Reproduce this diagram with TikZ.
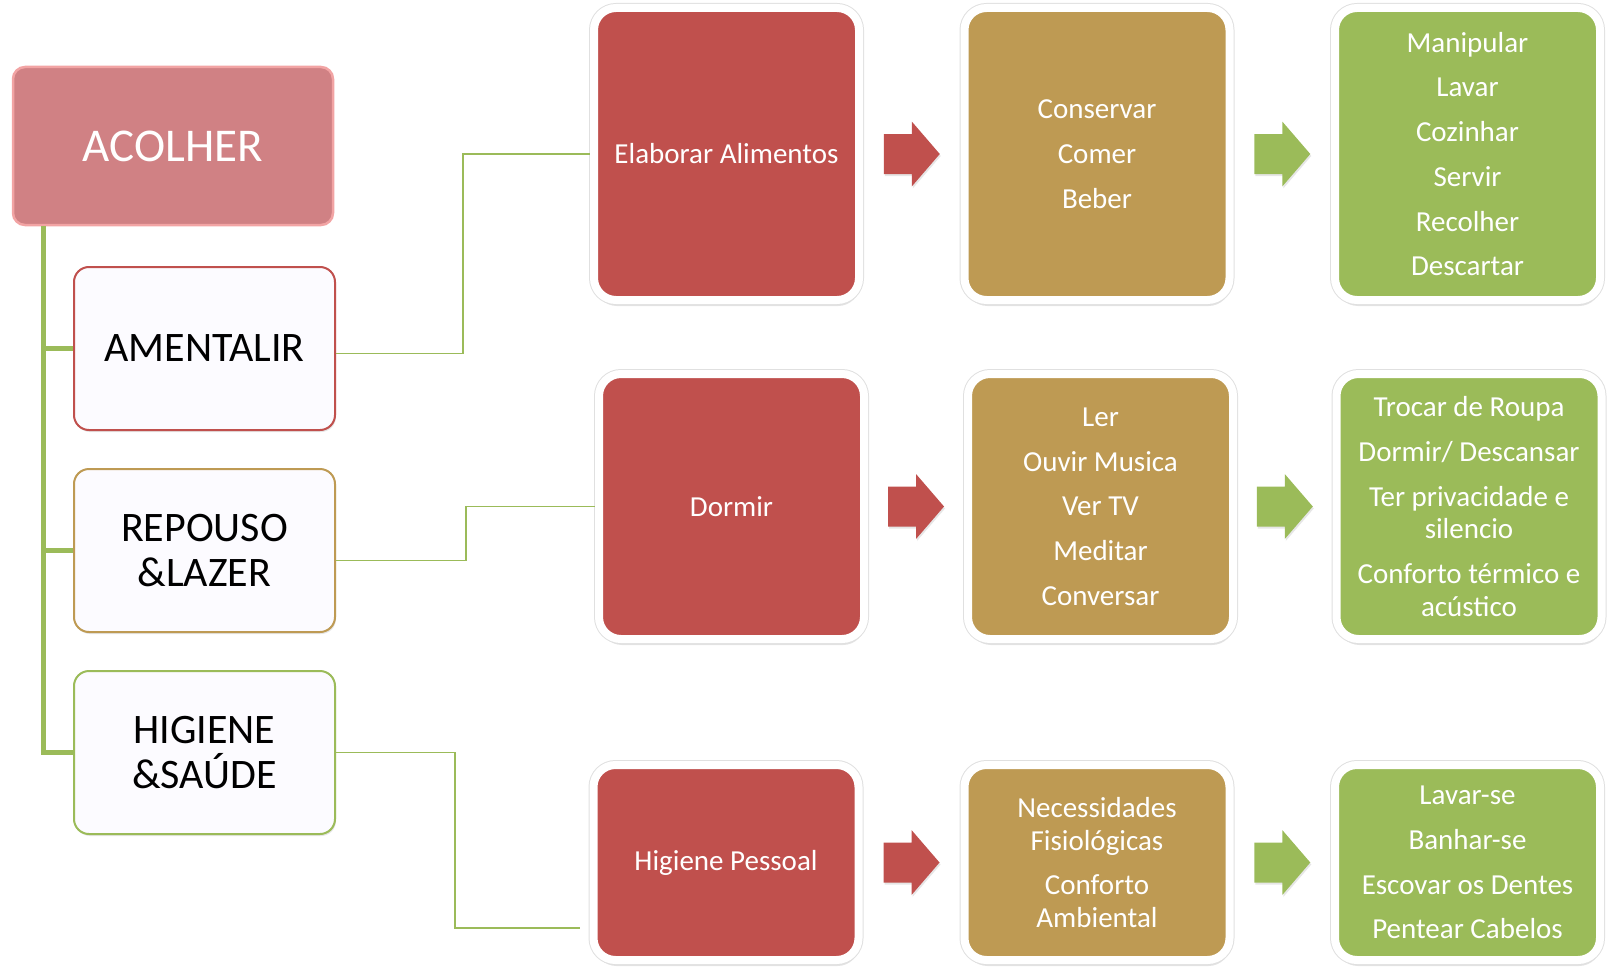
\documentclass[tikz,border=0pt]{standalone}
\usepackage{fontspec}
\setmainfont{Carlito}
\usetikzlibrary{shadows, calc}

\definecolor{tilered}{HTML}{C0504D}
\definecolor{tiletan}{HTML}{BE9A53}
\definecolor{tilegreen}{HTML}{9BBB59}
\definecolor{headpink}{HTML}{D08184}
\definecolor{headline}{HTML}{F2A4A4}
\definecolor{catfill}{HTML}{FCFBFF}

\newcommand{\tilegap}{\\[12.2pt]}

\tikzset{
    pics/bigarrow/.style={code={
        \fill[#1, drop shadow={shadow xshift=1pt, shadow yshift=-2pt, opacity=0.2}]
            (-28,-20) -- (0,-20) -- (0,-32.5) -- (28,0) -- (0,32.5) -- (0,20) -- (-28,20) -- cycle;
    }}
}

\begin{document}
\begin{tikzpicture}[
    x=1pt, y=-1pt,
    every node/.style={font=\fontsize{29}{32.5}\selectfont},
    head/.style={rectangle, rounded corners=12pt, fill=headpink, draw=headline, line width=2.5pt,
        minimum width=320pt, minimum height=158pt, text=white, font=\fontsize{47}{50}\selectfont},
    cat/.style={rectangle, rounded corners=15pt, fill=catfill, draw=#1, line width=2pt,
        minimum width=261pt, minimum height=163pt, align=center, font=\fontsize{42}{45}\selectfont,
        drop shadow={shadow xshift=1pt, shadow yshift=-2pt, opacity=0.2}},
    tile/.style={rectangle, rounded corners=22pt, fill=#1, draw=white, line width=8pt,
        minimum width=265pt, text=white, align=center, inner sep=0pt,
        drop shadow={shadow xshift=1pt, shadow yshift=-6pt, opacity=0.22},
        preaction={draw=black!12, line width=10pt}},
    trunk/.style={tilegreen, line width=5pt},
    link/.style={tilegreen, line width=1.8pt}
]
\useasboundingbox (0,0) rectangle (1608,966);

% Main heading and categories
\node[head] (acolher) at (173,146) {ACOLHER};
\node[cat=tilered] (amentalir) at (204.5,348.5) {AMENTALIR};
\node[cat=tiletan] (repouso) at (204.5,550.5) {REPOUSO\\\&LAZER};
\node[cat=tilegreen] (higiene) at (204.5,752.5) {HIGIENE\\\&SAÚDE};

% Trunk with branches
\coordinate (t0) at ([xshift=-130pt]acolher.south);
\draw[trunk] (t0) |- (higiene.west);
\foreach \n in {amentalir, repouso}
    \draw[trunk] (\n.west) -- (\n.west -| t0);

% Row 1: alimentar
\node[tile=tilered, minimum height=292pt] (elab) at (726.5,154) {Elaborar Alimentos};
\node[tile=tiletan, minimum height=292pt] (cons) at (1097,154) {Conservar\tilegap Comer\tilegap Beber};
\node[tile=tilegreen, minimum height=292pt] (manip) at (1467.5,154)
    {Manipular\tilegap Lavar\tilegap Cozinhar\tilegap Servir\tilegap Recolher\tilegap Descartar};

% Row 2: repouso
\node[tile=tilered, minimum height=265pt] (dormir) at (731.5,506.5) {Dormir};
\node[tile=tiletan, minimum height=265pt] (ler) at (1100.5,506.5)
    {Ler\tilegap Ouvir Musica\tilegap Ver TV\tilegap Meditar\tilegap Conversar};
\node[tile=tilegreen, minimum height=265pt] (trocar) at (1469,506.5)
    {Trocar de Roupa\tilegap Dormir/ Descansar\tilegap Ter privacidade e\\silencio\tilegap Conforto térmico e\\acústico};

% Row 3: higiene
\node[tile=tilered, minimum height=195pt] (higpes) at (726,862.5) {Higiene Pessoal};
\node[tile=tiletan, minimum height=195pt] (necess) at (1097,862.5)
    {Necessidades\\Fisiológicas\tilegap Conforto\\Ambiental};
\node[tile=tilegreen, minimum height=195pt] (lavar) at (1467.5,862.5)
    {Lavar-se\tilegap Banhar-se\tilegap Escovar os Dentes\tilegap Pentear Cabelos};

% Links from categories to rows
\draw[link] ([yshift=-5pt]amentalir.east) -- ++(127,0) |- (elab.west);
\draw[link] ([yshift=-10pt]repouso.east) -- ++(130,0) |- (dormir.west);
\draw[link] (higiene.east) -- ++(119,0) |- ([xshift=-10pt, yshift=-65.5pt]higpes.west);

% Block arrows between tiles
\foreach \a/\b/\c in {elab/cons/tilered, cons/manip/tilegreen,
                      dormir/ler/tilered, ler/trocar/tilegreen,
                      higpes/necess/tilered, necess/lavar/tilegreen}
    \pic at ($(\a.east)!0.5!(\b.west)$) {bigarrow=\c};

\end{tikzpicture}
\end{document}
